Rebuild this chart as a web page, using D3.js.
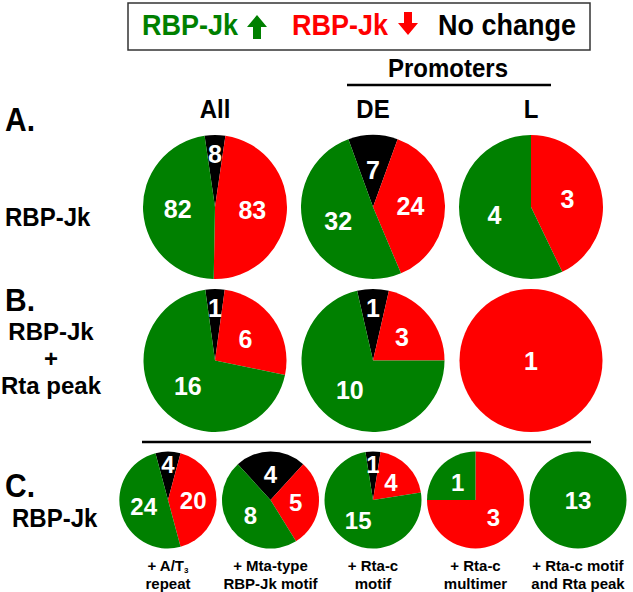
<!DOCTYPE html>
<html>
<head>
<meta charset="utf-8">
<script src="https://cdn.jsdelivr.net/npm/d3@7"></script>
<style>
  html, body { margin: 0; padding: 0; background: #fff; }
  svg { display: block; }
  text { font-family: "Liberation Sans", Arial, sans-serif; font-weight: bold; }
</style>
</head>
<body>
<svg id="chart" width="633" height="592"></svg>
<script>
// ---------- data ----------
const legendLabels = ["RBP-Jk", "RBP-Jk", "No change"];
const columnsAB = ["All", "DE", "L"];
const headerGroup = "Promoters";

const upA = [82, 32, 4];
const downA = [83, 24, 3];
const noChangeA = [8, 7, 0];

const upB = [16, 10, 0];
const downB = [6, 3, 1];
const noChangeB = [1, 1, 0];

const categoriesC = [
  ["+ A/T|3", "repeat"],
  ["+ Mta-type", "RBP-Jk motif"],
  ["+ Rta-c", "motif"],
  ["+ Rta-c", "multimer"],
  ["+ Rta-c motif", "and Rta peak"]
];
const upC = [24, 8, 15, 1, 13];
const downC = [20, 5, 4, 3, 0];
const noChangeC = [4, 4, 1, 0, 0];

// ---------- setup ----------
const GREEN = "#008000", RED = "#ff0000", BLACK = "#000000";
const svg = d3.select("#chart");
const SY = 1.1; // vertical text stretch seen in the figure

function label(x, y, str, size, opts = {}) {
  return svg.append("text")
    .attr("transform", `translate(${x},${y}) scale(1,${opts.sy || SY})`)
    .attr("font-size", size)
    .attr("text-anchor", opts.anchor || "start")
    .attr("fill", opts.fill || "#000")
    .text(str);
}

// ---------- legend ----------
svg.append("rect").attr("x", 128).attr("y", 3).attr("width", 462).attr("height", 47)
  .attr("fill", "none").attr("stroke", "#333").attr("stroke-width", 1.5);
label(142, 35, legendLabels[0], 27, { fill: GREEN });
label(292, 35, legendLabels[1], 27, { fill: RED });
label(438, 35, legendLabels[2], 27, { fill: BLACK });

function arrow(cx, yTop, yBot, up, color) {
  const hw = 10, sw = 4, hh = 12;
  let p;
  if (up) {
    p = [[cx, yTop], [cx + hw, yTop + hh], [cx + sw, yTop + hh], [cx + sw, yBot], [cx - sw, yBot], [cx - sw, yTop + hh], [cx - hw, yTop + hh]];
  } else {
    p = [[cx, yBot], [cx + hw, yBot - hh], [cx + sw, yBot - hh], [cx + sw, yTop], [cx - sw, yTop], [cx - sw, yBot - hh], [cx - hw, yBot - hh]];
  }
  svg.append("path").attr("d", d3.line()(p) + "Z").attr("fill", color);
}
arrow(257, 15, 39, true, GREEN);
arrow(408, 12, 35, false, RED);

// ---------- headers ----------
label(448, 77, headerGroup, 24, { anchor: "middle" });
svg.append("line").attr("x1", 347).attr("x2", 551).attr("y1", 85).attr("y2", 85)
  .attr("stroke", "#000").attr("stroke-width", 2.5);

const xAB = d3.scalePoint().domain(columnsAB).range([215, 531]);
columnsAB.forEach(c => label(xAB(c), 118, c, 24, { anchor: "middle" }));

// ---------- row labels ----------
label(5, 131, "A.", 30);
label(5, 226, "RBP-Jk", 24);
label(5, 311, "B.", 30, { sy: 1.05 });
label(51, 340, "RBP-Jk", 24, { anchor: "middle", sy: 1.0 });
label(51, 367, "+", 24, { anchor: "middle", sy: 1.0 });
label(51, 394, "Rta peak", 24, { anchor: "middle", sy: 1.0 });
svg.append("line").attr("x1", 142).attr("x2", 591).attr("y1", 442).attr("y2", 442)
  .attr("stroke", "#000").attr("stroke-width", 2.5);
label(5, 497, "C.", 30);
label(12, 527, "RBP-Jk", 24);

// ---------- pies ----------
const colorScale = d3.scaleOrdinal().domain(["nc", "down", "up"]).range([BLACK, RED, GREEN]);

function drawPie(cx, cy, r, up, down, nc, fontSize) {
  const data = [
    { key: "nc", value: nc },
    { key: "down", value: down },
    { key: "up", value: up }
  ];
  const total = up + down + nc;
  const start = -Math.PI * nc / total;
  const pie = d3.pie().sort(null).value(d => d.value)
    .startAngle(start).endAngle(start + 2 * Math.PI);
  const arcs = pie(data).filter(a => a.data.value > 0);
  const arc = d3.arc().innerRadius(0).outerRadius(r);
  const g = svg.append("g").attr("transform", `translate(${cx},${cy})`);
  g.selectAll("path").data(arcs).join("path")
    .attr("d", arc)
    .attr("fill", d => colorScale(d.data.key));
  arcs.forEach(a => {
    const frac = a.data.value / total;
    let pos = [0, 0];
    if (frac < 1) {
      const k = frac < 0.1 ? 0.74 : 0.52;
      pos = d3.arc().innerRadius(r * k).outerRadius(r * k).centroid(a);
    }
    g.append("text")
      .attr("x", pos[0]).attr("y", pos[1])
      .attr("dy", "0.36em")
      .attr("text-anchor", "middle")
      .attr("font-size", fontSize)
      .attr("fill", "#fff")
      .text(a.data.value);
  });
}

columnsAB.forEach((c, i) => {
  drawPie(xAB(c), 207, 72, upA[i], downA[i], noChangeA[i], 25);
  drawPie(xAB(c), 360.5, 71.5, upB[i], downB[i], noChangeB[i], 25);
});

const xC = d3.scalePoint().domain(d3.range(categoriesC.length)).range([168, 578]);
categoriesC.forEach((cat, i) => {
  drawPie(xC(i), 500, 48.5, upC[i], downC[i], noChangeC[i], 24);
  const [main, sub] = cat[0].split("|");
  const t = svg.append("text")
    .attr("x", xC(i)).attr("y", 571)
    .attr("font-size", 15).attr("text-anchor", "middle");
  t.append("tspan").text(main);
  if (sub) t.append("tspan").attr("font-size", 8).attr("dy", 2).text(sub);
  label(xC(i), 589, cat[1], 15, { anchor: "middle", sy: 1.0 });
});
</script>
</body>
</html>
